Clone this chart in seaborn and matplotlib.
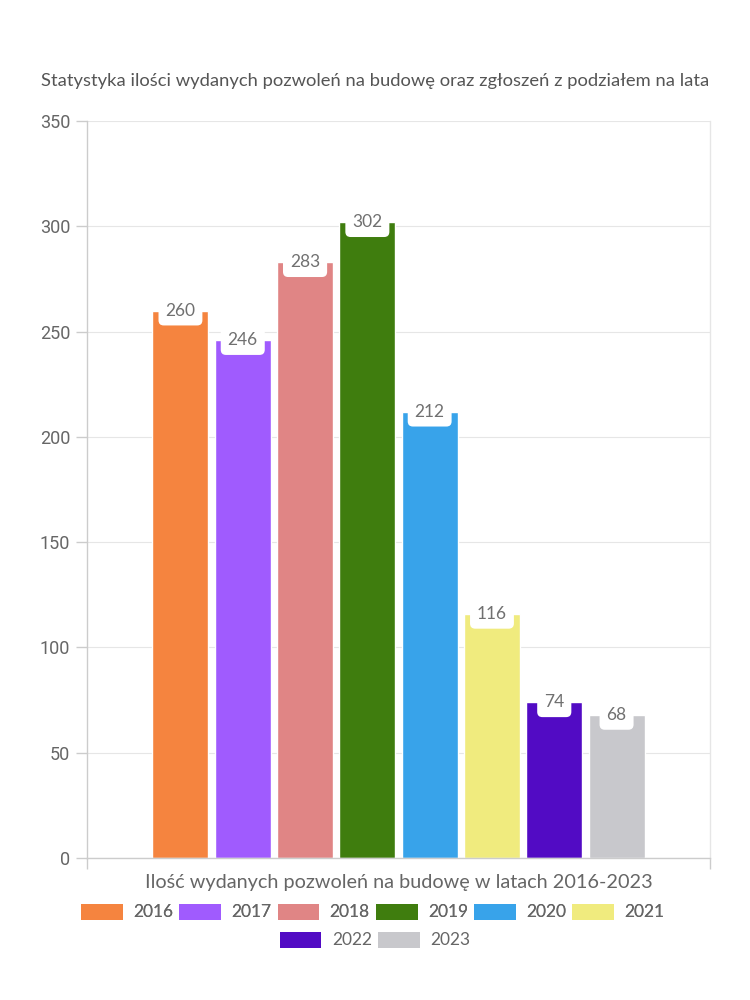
import matplotlib
matplotlib.use("Agg")
import matplotlib.pyplot as plt
import seaborn as sns
import pandas as pd
from matplotlib.patches import Patch

years = ["2016", "2017", "2018", "2019", "2020", "2021", "2022", "2023"]
values = [260, 246, 283, 302, 212, 116, 74, 68]
colors = ["#F5843F", "#A05BFE", "#E08585", "#3F7D0E", "#38A3EA", "#F0EB7E", "#520BC4", "#C8C8CC"]
title = "Statystyka ilości wydanych pozwoleń na budowę oraz zgłoszeń z podziałem na lata"
xlabel = "Ilość wydanych pozwoleń na budowę w latach 2016-2023"
yticks = [0, 50, 100, 150, 200, 250, 300, 350]

sns.set_theme(style="white")
plt.rcParams['font.family'] = ['Lato', 'DejaVu Sans']

df = pd.DataFrame({"cat": [""] * len(years), "year": years, "value": values})

fig = plt.figure(figsize=(7.5, 10), dpi=100)
ax = fig.add_axes([0.116, 0.142, 0.8307, 0.737])

sns.barplot(data=df, x="cat", y="value", hue="year", hue_order=years,
            palette=dict(zip(years, colors)), gap=0.1, saturation=1,
            legend=False, ax=ax, width=0.8)

ax.set_xlim(-0.5, 0.5)
ax.set_ylim(0, 350)
ax.set_yticks(yticks)
ax.set_yticklabels([str(t) for t in yticks], fontsize=13, color="#666666",
                   family=['Roboto', 'DejaVu Sans'])
ax.set_xticks([-0.5, 0.5])
ax.set_xticklabels(["", ""])
ax.tick_params(axis="y", length=8, color="#cccccc", width=1, left=True, pad=4)
ax.tick_params(axis="x", length=8, color="#cccccc", width=1, bottom=True)
ax.yaxis.grid(True, color="#e6e6e6", linewidth=0.8)
ax.set_axisbelow(True)
for s in ["left", "bottom", "right"]:
    ax.spines[s].set_visible(True)
    ax.spines[s].set_color("#cccccc")
    ax.spines[s].set_linewidth(1)
ax.spines["right"].set_color("#e6e6e6")
ax.spines["top"].set_visible(False)
ax.set_ylabel("")
ax.set_xlabel(xlabel, fontsize=14.3, color="#666666", labelpad=0)

for bar in ax.patches:
    h = bar.get_height()
    if h <= 0:
        continue
    cx = bar.get_x() + bar.get_width() / 2
    ax.text(cx, h, f"{int(round(h))}", ha="center", va="center",
            fontsize=12.5, color="#707070",
            bbox=dict(boxstyle="round,pad=0.4,rounding_size=0.3", fc="white", ec="none"))

fig.text(0.5, 0.919, title, ha="center", va="center", fontsize=13.2, color="#555555")

handles = [Patch(facecolor=c, edgecolor="none") for c in colors]
leg_kw = dict(frameon=False, fontsize=12.5, handlelength=2.4, handleheight=1.05,
              handletextpad=0.6, columnspacing=0.35, labelcolor="#666666")
leg1 = fig.legend(handles[:6], years[:6], loc="center", bbox_to_anchor=(0.497, 0.088),
                  ncol=6, **leg_kw)
leg2 = fig.legend(handles[6:], years[6:], loc="center", bbox_to_anchor=(0.5, 0.06),
                  ncol=2, **leg_kw)
fig.add_artist(leg1)

fig.savefig("out.png", dpi=100, facecolor="white")
